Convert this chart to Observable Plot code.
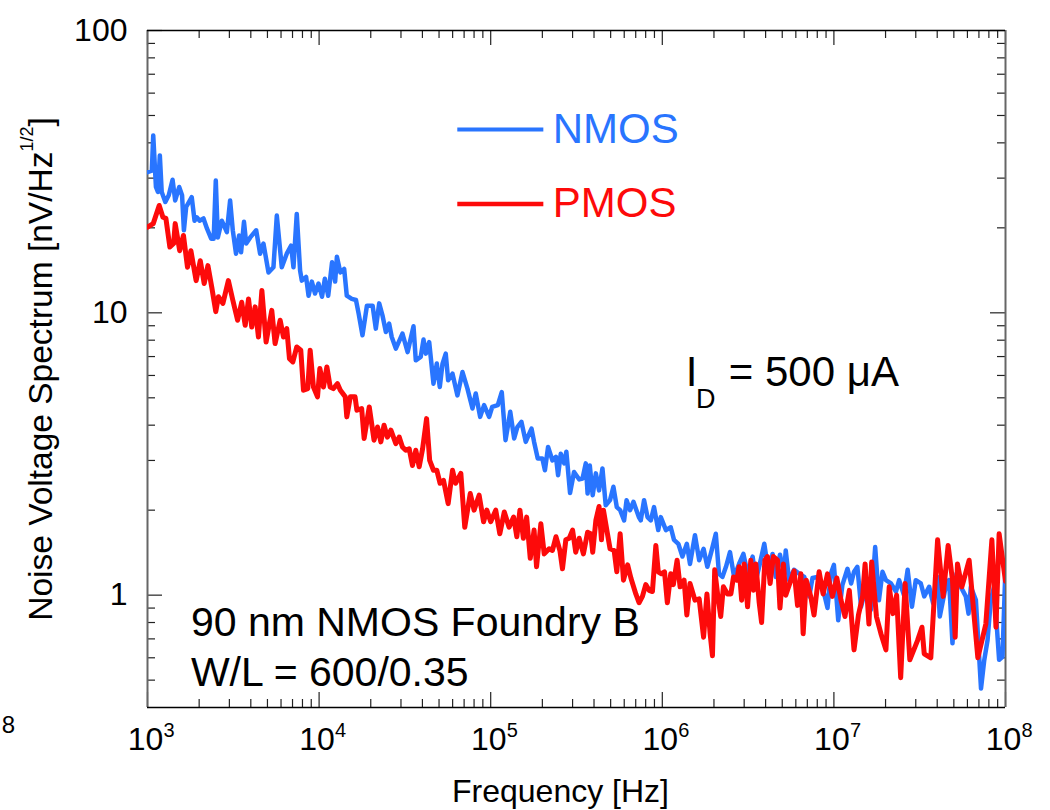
<!DOCTYPE html>
<html><head><meta charset="utf-8">
<script src="https://cdn.jsdelivr.net/npm/d3@7"></script>
<script src="https://cdn.jsdelivr.net/npm/@observablehq/plot@0.6"></script>
<style>html,body{margin:0;padding:0;background:#fff;} #chart svg{display:block;}</style>
</head><body><div id="chart"></div>
<script>
// ---------- data ----------
const nmosFreq = [1000,1060,1080,1120,1150,1180,1210,1270,1330,1400,1450,1530,1590,1630,1680,1810,1880,1940,2010,2120,2220,2350,2430,2500,2570,2710,2900,3030,3140,3280,3420,3510,3650,3760,3970,4300,4530,4740,5070,5420,5670,6060,6480,6870,7090,7410,7750,7930,8400,8680,9070,9470,9920,
10400,10800,11300,11900,12400,12700,13300,14000,14500,15500,16400,17000,17900,19000,20500,21400,22400,23400,24500,25600,26500,28000,30600,32800,35500,36600,39100,40600,41900,43800,46400,48500,50500,52400,54700,56500,59900,64000,68500,73200,78300,81800,86800,91500,97900,
102000,110000,116000,122000,130000,137000,143000,151000,160000,168000,173000,179000,188000,200000,207000,216000,229000,240000,247000,256000,268000,276000,290000,306000,328000,343000,358000,367000,378000,393000,410000,428000,448000,468000,496000,519000,543000,568000,599000,619000,649000,679000,730000,749000,783000,820000,857000,895000,947000,980000,
1.05e6,1.12e6,1.17e6,1.24e6,1.31e6,1.39e6,1.45e6,1.55e6,1.64e6,1.74e6,1.83e6,1.94e6,2.05e6,2.14e6,2.24e6,2.35e6,2.48e6,2.62e6,2.80e6,2.97e6,3.14e6,3.36e6,3.51e6,3.67e6,3.93e6,4.20e6,4.39e6,4.59e6,4.85e6,5.12e6,5.24e6,5.48e6,5.86e6,6.28e6,6.72e6,7.19e6,7.50e6,8.03e6,8.58e6,9.18e6,9.59e6,
1.00e7,1.06e7,1.12e7,1.20e7,1.26e7,1.31e7,1.37e7,1.44e7,1.54e7,1.64e7,1.74e7,1.83e7,1.92e7,2.01e7,2.15e7,2.30e7,2.40e7,2.56e7,2.69e7,2.85e7,3.00e7,3.21e7,3.36e7,3.59e7,3.79e7,4.02e7,4.14e7,4.44e7,4.69e7,4.91e7,5.18e7,5.49e7,5.87e7,6.09e7,6.28e7,6.72e7,7.20e7,7.52e7,7.86e7,8.21e7,8.58e7,9.18e7,9.60e7,1.00e8];
const nmosNoise = [31.5,31.9,42.5,27.9,26.8,36.1,26.8,24.7,26.1,29.6,25.0,27.9,26.1,19.6,23.7,25.7,21.2,21.8,21.2,21.6,19.9,18.3,18.3,29.4,18.5,21.2,19.3,25.0,19.6,16.2,18.8,16.4,21.0,17.6,18.5,19.6,16.2,17.6,13.9,14.5,22.1,14.5,16.2,17.3,14.5,22.4,14.1,13.0,13.4,11.5,12.9,11.7,12.7,
11.4,13.2,11.5,15.1,12.9,15.8,13.9,14.3,11.5,11.2,11.1,9.93,8.33,10.6,10.6,8.79,10.8,9.8,8.55,9.16,8.21,7.47,8.44,7.26,8.96,6.79,6.98,8.04,7.17,7.88,5.61,6.61,5.46,6.61,7.17,5.77,6.09,5.10,6.17,5.39,4.58,5.18,4.28,4.71,4.28,
4.64,4.71,5.24,3.54,4.46,3.59,3.94,4.11,3.49,3.74,3.89,3.49,3.05,3.05,2.77,3.35,3.00,3.09,2.66,3.17,2.93,3.22,2.30,2.73,2.57,2.59,2.93,2.29,2.88,2.26,2.70,2.35,2.81,2.08,2.17,2.42,2.05,2.00,1.84,2.17,2.00,2.14,1.89,1.84,2.17,1.89,1.84,2.05,1.70,1.89,
1.70,1.74,1.57,1.52,1.37,1.52,1.29,1.63,1.33,1.46,1.26,1.44,1.65,1.19,1.16,1.26,1.42,1.16,1.29,1.40,1.19,1.37,1.13,1.26,1.52,1.16,1.40,1.16,1.39,1.19,1.44,1.13,1.23,1.19,1.16,0.99,1.15,1.16,1.07,0.90,1.19,
1.28,0.815,1.085,1.24,1.10,1.21,1.26,0.91,1.07,0.885,1.48,0.96,1.21,1.13,1.10,1.03,1.13,1.00,1.23,0.91,1.13,1.10,0.99,1.07,0.935,1.16,0.84,1.04,1.13,0.675,1.19,1.07,0.99,0.86,1.07,0.96,0.467,0.589,0.693,0.96,1.07,0.59,0.605,1.26];

const pmosFreq = [1000,1080,1170,1230,1280,1350,1420,1450,1540,1620,1710,1790,1920,2030,2140,2250,2370,2500,2590,2750,2960,3140,3350,3540,3710,3880,4050,4240,4430,4640,4910,5300,5540,5930,6200,6480,6720,7030,7410,7820,8110,8590,8870,9270,9790,
10100,10600,11100,11600,12100,12800,13300,14200,14500,15200,16200,16600,17700,18300,19600,20900,21900,22900,23900,25000,26200,28000,29300,30600,32000,33500,35000,36600,38300,40100,42300,44100,46400,48500,50700,53100,56500,59900,62400,67000,70600,76000,80000,85600,90900,94900,
100000,107000,113000,120000,128000,136000,142000,148000,155000,162000,170000,179000,185000,196000,205000,219000,229000,240000,253000,262000,274000,287000,300000,313000,328000,347000,367000,383000,393000,410000,428000,442000,454000,479000,496000,524000,543000,568000,594000,628000,656000,701000,732000,766000,801000,838000,876000,917000,947000,989000,
1.03e6,1.07e6,1.12e6,1.16e6,1.22e6,1.27e6,1.34e6,1.39e6,1.45e6,1.55e6,1.64e6,1.74e6,1.82e6,1.90e6,1.96e6,2.02e6,2.10e6,2.19e6,2.27e6,2.40e6,2.51e6,2.60e6,2.72e6,2.80e6,2.90e6,3.00e6,3.14e6,3.28e6,3.40e6,3.51e6,3.67e6,3.79e6,3.96e6,4.10e6,4.25e6,4.44e6,4.69e6,4.85e6,5.08e6,5.24e6,5.53e6,5.86e6,6.14e6,6.42e6,6.62e6,6.90e6,7.33e6,7.66e6,8.20e6,8.65e6,9.18e6,9.80e6,
1.04e7,1.10e7,1.16e7,1.23e7,1.31e7,1.39e7,1.47e7,1.52e7,1.60e7,1.66e7,1.77e7,1.88e7,2.01e7,2.10e7,2.21e7,2.32e7,2.45e7,2.60e7,2.77e7,3.07e7,3.26e7,3.36e7,3.67e7,4.02e7,4.33e7,4.63e7,4.91e7,5.09e7,5.25e7,5.57e7,6.14e7,6.90e7,7.68e7,8.33e7,8.80e7,9.18e7,1.00e8];
const pmosNoise = [20.1,20.7,24.0,21.8,21.6,17.1,17.6,20.7,16.6,18.8,14.5,16.6,13.0,15.3,12.7,14.7,12.3,10.1,11.4,10.8,13.0,11.1,9.41,10.9,9.03,11.2,8.91,10.5,8.21,12.0,7.88,10.2,7.78,9.41,8.21,8.79,6.88,6.70,7.57,7.37,5.32,5.39,7.37,5.46,5.04,
6.35,5.46,6.43,5.46,5.39,5.61,5.32,5.04,4.28,5.04,5.04,4.52,4.58,3.59,4.64,3.54,3.94,3.49,4.00,3.63,3.84,3.44,3.63,3.35,3.26,3.30,2.88,3.26,2.85,3.30,4.22,3.00,2.77,2.77,2.49,2.55,2.11,2.77,2.49,2.70,1.74,2.29,2.00,2.26,1.82,2.00,
1.82,2.00,1.65,1.97,1.74,1.89,1.61,2.00,1.59,1.89,1.35,1.70,1.26,1.79,1.40,1.46,1.44,1.61,1.44,1.24,1.57,1.59,1.70,1.42,1.59,1.40,1.67,1.65,1.42,1.84,2.06,1.57,2.00,1.65,1.46,1.44,1.21,1.65,1.13,1.28,1.15,1.01,0.94,0.99,1.09,1.04,1.03,1.50,1.21,1.19,
1.21,0.94,1.19,1.09,1.33,1.07,1.13,0.85,1.10,0.96,0.97,0.71,1.01,0.73,0.61,1.23,1.01,0.84,1.07,1.01,1.01,1.16,1.13,1.26,0.96,1.29,0.91,1.33,1.04,1.29,0.94,0.80,1.33,1.37,1.10,1.37,1.33,0.90,1.29,1.00,1.10,1.22,0.92,1.19,0.73,1.13,0.99,0.85,1.21,1.01,1.19,0.99,
1.15,0.96,0.84,1.04,0.64,0.85,0.99,1.29,0.79,1.31,0.84,0.73,0.64,1.07,0.86,1.00,0.51,1.10,0.59,0.69,0.77,0.62,0.60,1.57,0.99,1.50,1.13,0.71,1.29,1.07,1.33,0.60,0.79,1.57,0.77,1.65,1.12];

// axes / labels
const xDecades = [1e3, 1e4, 1e5, 1e6, 1e7, 1e8];
const xExponents = ["3", "4", "5", "6", "7", "8"];
const yMajor = [1, 10, 100];
const yTickLabels = ["1", "10", "100"];
const minorMultipliers = [2, 3, 4, 5, 6, 7, 8, 9];
const yDecadesForMinor = [0.1, 1, 10];
const xTitle = "Frequency [Hz]";
const yTitle = "Noise Voltage Spectrum [nV/Hz1/2]";
const legendNames = ["NMOS", "PMOS"];
const legendY = [44.6, 24.3];
const legendX = [64300, 204000, 230000];

// ---------- layout ----------
const W = 1050, H = 810, mL = 147, mR = 45, mT = 30, mB = 103;
const fw = W - mL - mR, fh = H - mT - mB;
const font = "'Liberation Sans', Arial, Helvetica, sans-serif";
const blue = "#2975ff", red = "#fd0a0a";

const nmos = nmosFreq.map((f, i) => ({f, v: nmosNoise[i]}));
const pmos = pmosFreq.map((f, i) => ({f, v: pmosNoise[i]}));
const xMinor = xDecades.slice(0, -1).flatMap(d => minorMultipliers.map(m => d * m));
const yMinor = yDecadesForMinor.flatMap(d => minorMultipliers.map(m => d * m)).filter(v => v > 0.4 && v < 100);

const tk = {stroke: "#222", strokeWidth: 1.2};

const chart = Plot.plot({
  width: W, height: H,
  marginLeft: mL, marginRight: mR, marginTop: mT, marginBottom: mB,
  style: {fontFamily: font, background: "#fff", color: "#000", overflow: "visible"},
  x: {type: "log", domain: [1e3, 1e8], axis: null},
  y: {type: "log", domain: [0.4, 100], axis: null},
  marks: [
    // ticks (inward)
    Plot.ruleX(xMinor, {...tk, insetTop: fh - 8}),
    Plot.ruleX(xMinor, {...tk, insetBottom: fh - 8}),
    Plot.ruleX(xDecades, {...tk, insetTop: fh - 15}),
    Plot.ruleX(xDecades, {...tk, insetBottom: fh - 15}),
    Plot.ruleY(yMinor, {...tk, insetRight: fw - 8}),
    Plot.ruleY(yMinor, {...tk, insetLeft: fw - 8}),
    Plot.ruleY(yMajor, {...tk, insetRight: fw - 15}),
    Plot.ruleY(yMajor, {...tk, insetLeft: fw - 15}),
    // frame
    Plot.ruleX([1e3, 1e8], {stroke: "#666", strokeWidth: 2}),
    Plot.ruleY([0.4, 100], {stroke: "#000", strokeWidth: 1.5}),
    // data
    Plot.line(nmos, {x: "f", y: "v", stroke: blue, strokeWidth: 4.5, clip: true}),
    Plot.line(pmos, {x: "f", y: "v", stroke: red, strokeWidth: 5, clip: true}),
    // tick labels
    Plot.text(yMajor, {y: d => d, text: (d, i) => yTickLabels[i], frameAnchor: "left", textAnchor: "end", dx: -20, fontSize: 32}),
    Plot.text(xDecades, {x: d => d, text: () => "10", frameAnchor: "bottom", textAnchor: "middle", dx: -2, dy: 42, fontSize: 32}),
    Plot.text(xDecades, {x: d => d, text: (d, i) => xExponents[i], frameAnchor: "bottom", textAnchor: "start", dx: 16, dy: 29, fontSize: 20}),
    // axis titles
    Plot.text([xTitle], {text: d => d, frameAnchor: "bottom", textAnchor: "middle", dx: -16, dy: 94, fontSize: 32}),
    Plot.text([yTitle], {text: d => d, frameAnchor: "left", textAnchor: "middle", dx: -106, rotate: -90, fontSize: 33.5}),
    Plot.text(["8"], {text: d => d, frameAnchor: "bottom-left", textAnchor: "middle", dx: -139, dy: 25, fontSize: 24}),
    // legend
    Plot.ruleY([legendY[0]], {x1: legendX[0], x2: legendX[1], stroke: blue, strokeWidth: 4}),
    Plot.ruleY([legendY[1]], {x1: legendX[0], x2: legendX[1], stroke: red, strokeWidth: 4.5}),
    Plot.text([legendNames[0]], {x: legendX[2], y: legendY[0], text: d => d, fill: blue, textAnchor: "start", fontSize: 42}),
    Plot.text([legendNames[1]], {x: legendX[2], y: legendY[1], text: d => d, fill: red, textAnchor: "start", fontSize: 42}),
    // annotations
    Plot.text(["I"], {x: 1.37e6, y: 6.16, text: d => d, textAnchor: "start", fontSize: 42}),
    Plot.text(["D"], {x: 1.57e6, y: 4.92, text: d => d, textAnchor: "start", fontSize: 27}),
    Plot.text(["= 500 \u03bcA"], {x: 2.44e6, y: 6.16, text: d => d, textAnchor: "start", fontSize: 42}),
    Plot.text(["90 nm NMOS Foundry B"], {x: 1790, y: 0.796, text: d => d, textAnchor: "start", fontSize: 41}),
    Plot.text(["W/L = 600/0.35"], {x: 1790, y: 0.53, text: d => d, textAnchor: "start", fontSize: 41})
  ]
});

// superscript in the y title
d3.select(chart).selectAll("text").each(function () {
  if (this.textContent === yTitle) {
    const t = d3.select(this);
    t.text(null);
    t.append("tspan").text("Noise Voltage Spectrum [nV/Hz");
    t.append("tspan").attr("font-size", 18).attr("dy", -19).text("1/2");
    t.append("tspan").attr("dy", 19).text("]");
  }
});

document.getElementById("chart").appendChild(chart);
</script>
</body></html>
